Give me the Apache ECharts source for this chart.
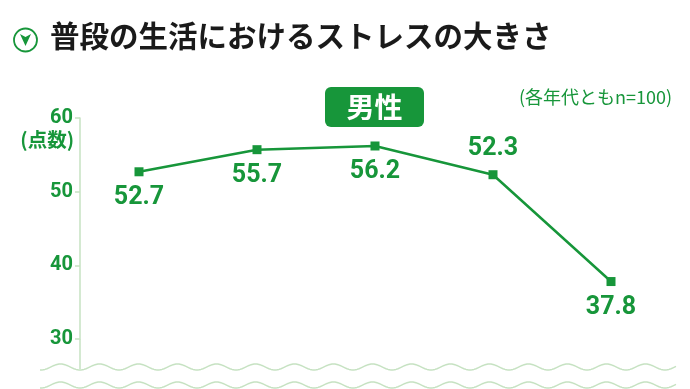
<!DOCTYPE html>
<html><head><meta charset="utf-8">
<script src="https://cdn.jsdelivr.net/npm/echarts@6/dist/echarts.min.js"></script>
<style>html,body{margin:0;padding:0;background:#fff}#c{width:690px;height:389px}</style>
</head><body><div id="c"></div>
<script>
const titleText = '普段の生活におけるストレスの大きさ';
const categories = ['20代', '30代', '40代', '50代', '60代'];
const values = [52.7, 55.7, 56.2, 52.3, 37.8];
const labelPos = ['bottom', 'bottom', 'bottom', 'top', 'bottom'];
const yTicks = [30, 40, 50, 60];
const G = '#17963a';
const LG = '#c6e2c2';
const FONT = '"Noto Sans CJK JP", "Noto Sans", sans-serif';
const NUMFONT = 'Roboto, "Noto Sans", sans-serif';

function wave(y0, x0, x1, period, amp) {
  const pts = [];
  for (let x = x0; x <= x1; x += 1) {
    pts.push([x, y0 + amp * Math.cos((x - 80) / period * 2 * Math.PI)]);
  }
  return pts;
}

const chart = echarts.init(document.getElementById('c'), null, {renderer: 'canvas'});
chart.setOption({
  animation: false,
  backgroundColor: '#fff',
  grid: {left: 80, right: 20, top: 118, bottom: 50},
  xAxis: {
    type: 'category', data: categories, boundaryGap: true,
    axisLine: {show: false}, axisTick: {show: false}, axisLabel: {show: false}
  },
  yAxis: {
    type: 'value', min: yTicks[0], max: yTicks[yTicks.length - 1], interval: 10,
    splitLine: {show: false},
    axisLine: {show: true, lineStyle: {color: LG, width: 1.5}},
    axisTick: {show: true, length: 5, lineStyle: {color: LG, width: 1.5}},
    axisLabel: {color: G, fontSize: 20, fontWeight: 'bold', fontFamily: NUMFONT, margin: 7}
  },
  series: [{
    type: 'line', data: values.map((v, i) => ({value: v, label: {position: labelPos[i]}})),
    symbol: 'rect', symbolSize: 9,
    lineStyle: {color: G, width: 2.5},
    itemStyle: {color: G},
    label: {show: true, color: G, fontSize: 25, fontWeight: 'bold', fontFamily: NUMFONT, distance: 9,
      formatter: p => p.value.toFixed(1)}
  }],
  graphic: [
    {type: 'circle', shape: {cx: 25.5, cy: 40, r: 11.5}, style: {fill: '#fff', stroke: G, lineWidth: 1.8}},
    {type: 'polygon', shape: {points: [[20, 34], [25.5, 37], [31, 34], [25.5, 46]]}, style: {fill: G}},
    {type: 'text', left: 50, top: 21, style: {text: titleText, fill: '#1a1a1a', font: 'bold 29.5px ' + FONT}},
    {type: 'rect', shape: {x: 325, y: 87, width: 99, height: 40, r: 6}, style: {fill: G}},
    {type: 'text', x: 374.5, y: 107, style: {text: '男性', fill: '#fff', font: 'bold 28px ' + FONT, align: 'center', verticalAlign: 'middle'}},
    {type: 'text', x: 672, y: 97, style: {text: '(各年代ともn=100)', fill: G, font: '18px ' + FONT, align: 'right', verticalAlign: 'middle'}},
    {type: 'text', x: 74, y: 140, style: {text: '(点数)', fill: G, font: 'bold 19.5px ' + FONT, align: 'right', verticalAlign: 'middle'}},
    {type: 'line', shape: {x1: 80, y1: 339, x2: 80, y2: 369}, style: {stroke: LG, lineWidth: 1.5}},
    {type: 'polyline', shape: {points: wave(367, 40, 676, 39, 3)}, style: {stroke: LG, lineWidth: 1.5, fill: null}},
    {type: 'polyline', shape: {points: wave(385, 40, 676, 39, 3)}, style: {stroke: LG, lineWidth: 1.5, fill: null}}
  ]
});
</script></body></html>
